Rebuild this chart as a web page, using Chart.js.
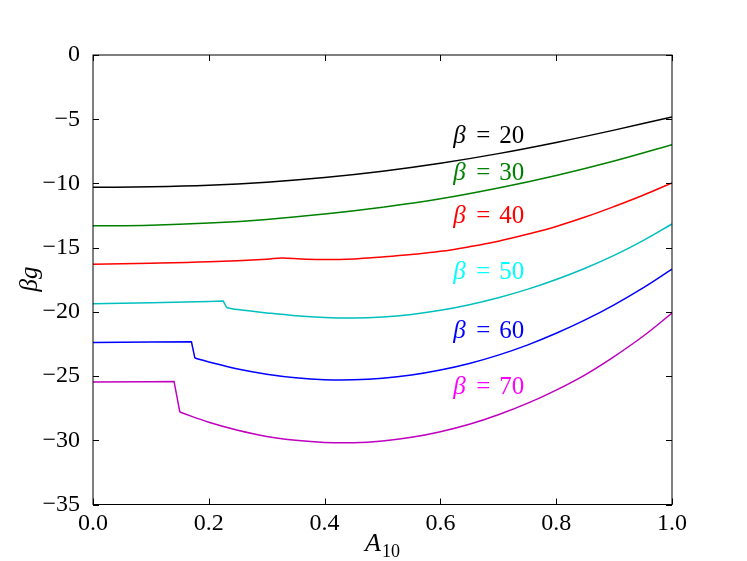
<!DOCTYPE html>
<html>
<head>
<meta charset="utf-8">
<script src="https://cdn.jsdelivr.net/npm/chart.js@4.4.1/dist/chart.umd.min.js"></script>
<style>
    html, body { margin: 0; padding: 0; background: #fff; }
    canvas { display: block; }
</style>
</head>
<body>
<canvas id="chart" width="747" height="561"></canvas>
<script>
// beta values and the curves
const betas = [20, 30, 40, 50, 60, 70];

const a20 = [0, 0.1, 0.2, 0.3, 0.4, 0.5, 0.6, 0.7, 0.8, 0.9, 1.0];
const g20 = [-10.3, -10.26, -10.14, -9.9, -9.54, -9.05, -8.43, -7.68, -6.81, -5.85, -4.82];

const a30 = [0, 0.1, 0.2, 0.3, 0.4, 0.5, 0.6, 0.7, 0.8, 0.9, 1.0];
const g30 = [-13.3, -13.25, -13.08, -12.8, -12.38, -11.85, -11.2, -10.36, -9.38, -8.25, -6.98];

const a40 = [0, 0.1, 0.2, 0.3, 0.326, 0.36, 0.4, 0.45, 0.5, 0.55, 0.6, 0.65, 0.7, 0.75, 0.8, 0.85, 0.9, 0.95, 1.0];
const g40 = [-16.3, -16.22, -16.1, -15.9, -15.8, -15.88, -15.93, -15.88, -15.72, -15.53, -15.29, -14.93, -14.5, -13.96, -13.35, -12.62, -11.8, -10.92, -9.96];

const a50 = [0, 0.1, 0.2, 0.225, 0.231, 0.25, 0.3, 0.35, 0.4, 0.45, 0.5, 0.55, 0.6, 0.65, 0.7, 0.75, 0.8, 0.85, 0.9, 0.95, 1.0];
const g50 = [-19.37, -19.3, -19.2, -19.16, -19.68, -19.82, -20.08, -20.3, -20.44, -20.48, -20.4, -20.2, -19.88, -19.44, -18.9, -18.25, -17.48, -16.6, -15.6, -14.45, -13.16];

const a60 = [0, 0.1, 0.17, 0.176, 0.2, 0.25, 0.3, 0.35, 0.4, 0.45, 0.5, 0.55, 0.6, 0.65, 0.7, 0.75, 0.8, 0.85, 0.9, 0.95, 1.0];
const g60 = [-22.38, -22.35, -22.33, -23.6, -23.9, -24.45, -24.85, -25.13, -25.28, -25.29, -25.17, -24.92, -24.53, -24.02, -23.37, -22.59, -21.67, -20.63, -19.45, -18.13, -16.67];

const a70 = [0, 0.1, 0.14, 0.15, 0.2, 0.25, 0.3, 0.35, 0.4, 0.45, 0.5, 0.55, 0.6, 0.65, 0.7, 0.75, 0.8, 0.85, 0.9, 0.95, 1.0];
const g70 = [-25.47, -25.44, -25.42, -27.8, -28.6, -29.22, -29.7, -30.0, -30.17, -30.19, -30.05, -29.77, -29.33, -28.75, -28.01, -27.13, -26.09, -24.9, -23.48, -21.9, -20.1];

// index of the first point after the sudden drop (0 = no drop)
const dropAt = [0, 0, 0, 4, 3, 3];

const xTicks = [0, 0.2, 0.4, 0.6, 0.8, 1.0];
const yTicks = [-35, -30, -25, -20, -15, -10, -5, 0];

const lineColors = ['#000000', '#008000', '#ff0000', '#00bfbf', '#0000ff', '#bf00bf'];
const labelColors = ['#000000', '#008000', '#ff0000', '#00ffff', '#0000ff', '#ff00ff'];
// where the "beta = n" labels sit, in data units (left edge, vertical centre)
const labelX = 0.622;
const labelY = [-6.35, -9.25, -12.6, -16.9, -21.5, -25.85];

const serif = '"Liberation Serif", "DejaVu Serif", serif';

function pairs(xs, ys) {
    return xs.map((x, i) => ({x: x, y: ys[i]}));
}

const curves = [[a20, g20], [a30, g30], [a40, g40], [a50, g50], [a60, g60], [a70, g70]];

// flat part + drop drawn straight, the rest as a smooth curve
const datasets = [];
curves.forEach((c, i) => {
    const pts = pairs(c[0], c[1]);
    const j = dropAt[i];
    const style = {borderColor: lineColors[i], borderWidth: 1.5, pointRadius: 0, fill: false};
    if (j > 0) {
        datasets.push(Object.assign({label: 'β = ' + betas[i], data: pts.slice(0, j + 1), tension: 0}, style));
    }
    datasets.push(Object.assign({label: 'β = ' + betas[i], data: pts.slice(j), tension: 0.4}, style));
});

const decorations = {
    id: 'decorations',
    afterDraw(chart) {
        const ctx = chart.ctx;
        const area = chart.chartArea;
        const xs = chart.scales.x;
        const ys = chart.scales.y;
        ctx.save();

        // frame
        ctx.strokeStyle = '#000';
        ctx.lineWidth = 1;
        ctx.strokeRect(area.left, area.top, area.right - area.left, area.bottom - area.top);

        // inward ticks on all four sides
        ctx.beginPath();
        yTicks.forEach(v => {
            const py = Math.round(ys.getPixelForValue(v)) + 0.5;
            ctx.moveTo(area.left, py); ctx.lineTo(area.left + 6, py);
            ctx.moveTo(area.right, py); ctx.lineTo(area.right - 6, py);
        });
        xTicks.forEach(v => {
            const px = Math.round(xs.getPixelForValue(v)) + 0.5;
            ctx.moveTo(px, area.bottom); ctx.lineTo(px, area.bottom - 6);
            ctx.moveTo(px, area.top); ctx.lineTo(px, area.top + 6);
        });
        ctx.stroke();

        // beta labels
        ctx.textBaseline = 'middle';
        ctx.textAlign = 'left';
        betas.forEach((b, i) => {
            const px = xs.getPixelForValue(labelX);
            const py = ys.getPixelForValue(labelY[i]);
            ctx.fillStyle = labelColors[i];
            ctx.font = 'italic 25px ' + serif;
            ctx.fillText('β', px, py);
            ctx.font = '25px ' + serif;
            ctx.fillText('=', px + 23, py);
            ctx.fillText(String(b), px + 46, py);
        });

        // y axis title
        ctx.fillStyle = '#000';
        ctx.save();
        ctx.translate(30, 279);
        ctx.rotate(-Math.PI / 2);
        ctx.textAlign = 'center';
        ctx.font = 'italic 25px ' + serif;
        ctx.fillText('βg', 0, 0);
        ctx.restore();

        // x axis title, A with subscript 10
        ctx.textBaseline = 'alphabetic';
        ctx.font = 'italic 26px ' + serif;
        const wA = ctx.measureText('A').width;
        ctx.font = '18px ' + serif;
        const wSub = ctx.measureText('10').width;
        const sx = 382 - (wA + wSub) / 2;
        ctx.font = 'italic 26px ' + serif;
        ctx.fillText('A', sx, 551);
        ctx.font = '18px ' + serif;
        ctx.fillText('10', sx + wA + 1, 557);

        ctx.restore();
    }
};

new Chart(document.getElementById('chart'), {
    type: 'line',
    data: {datasets: datasets},
    options: {
        responsive: false,
        animation: false,
        layout: {padding: {top: 55, right: 75, left: 0, bottom: 0}},
        plugins: {
            legend: {display: false},
            tooltip: {enabled: false}
        },
        scales: {
            x: {
                type: 'linear',
                min: 0,
                max: 1,
                afterFit: scale => { scale.height = 56.5; },
                afterBuildTicks: scale => { scale.ticks = xTicks.map(v => ({value: v})); },
                grid: {display: false},
                border: {display: false},
                ticks: {
                    padding: -3,
                    color: '#000',
                    font: {family: serif, size: 24},
                    maxRotation: 0,
                    callback: v => v.toFixed(1)
                }
            },
            y: {
                type: 'linear',
                min: -35,
                max: 0,
                afterFit: scale => { scale.width = 93; },
                afterBuildTicks: scale => { scale.ticks = yTicks.map(v => ({value: v})); },
                grid: {display: false},
                border: {display: false},
                ticks: {
                    padding: 5,
                    color: '#000',
                    font: {family: serif, size: 24},
                    callback: v => String(v).replace('-', '−')
                }
            }
        }
    },
    plugins: [decorations]
});
</script>
</body>
</html>
